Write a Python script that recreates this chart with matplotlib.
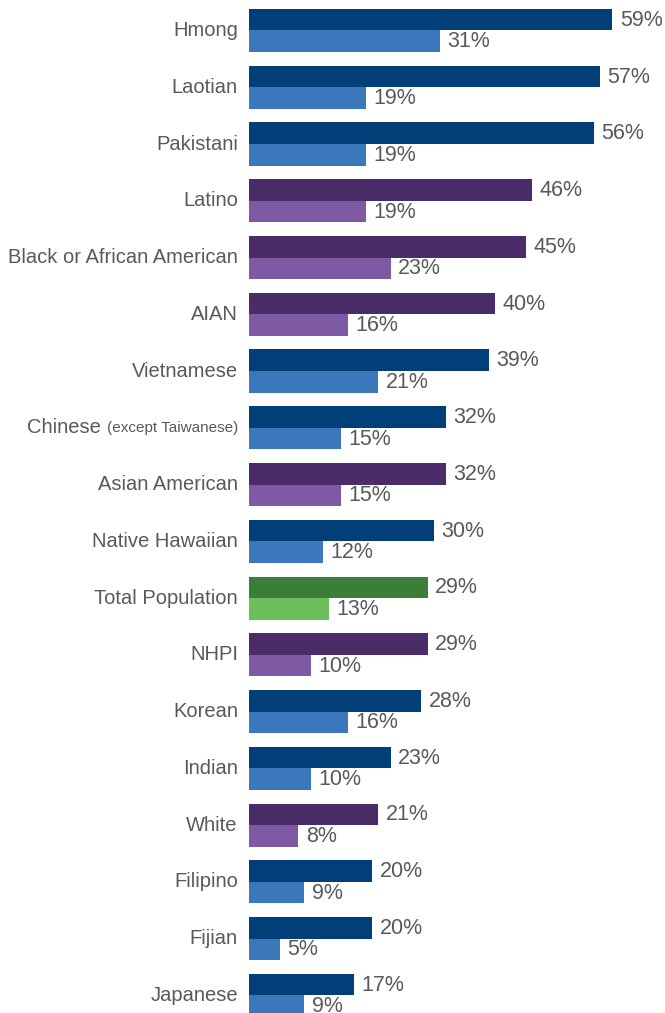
import matplotlib.pyplot as plt
import numpy as np

groups = ["Hmong", "Laotian", "Pakistani", "Latino", "Black or African American", "AIAN",
          "Vietnamese", "Chinese", "Asian American", "Native Hawaiian", "Total Population",
          "NHPI", "Korean", "Indian", "White", "Filipino", "Fijian", "Japanese"]
first = [59, 57, 56, 46, 45, 40, 39, 32, 32, 30, 29, 29, 28, 23, 21, 20, 20, 17]
second = [31, 19, 19, 19, 23, 16, 21, 15, 15, 12, 13, 10, 16, 10, 8, 9, 5, 9]
kind = ["asian", "asian", "asian", "race", "race", "race", "asian", "asian", "race",
        "asian", "total", "race", "asian", "asian", "race", "asian", "asian", "asian"]

palette = {
    "asian": ("#003f78", "#3a77bb"),
    "race": ("#4a2c69", "#7e59a4"),
    "total": ("#3b7e38", "#6cbf5a"),
}

plt.rcParams['font.family'] = ['Liberation Sans', 'DejaVu Sans']
text_color = "#595959"

fig = plt.figure(figsize=(6.65, 10.13), dpi=100)
ax = fig.add_axes([249 / 665, 0, 416 / 665, 1])

y = np.arange(len(groups))
h = 0.38
for i, g in enumerate(groups):
    dark, light = palette[kind[i]]
    ax.barh(i - h / 2, first[i], height=h, color=dark)
    ax.barh(i + h / 2, second[i], height=h, color=light)
    ax.text(first[i] + 1.2, i - h / 2 + 0.01, f"{first[i]}%", va="center", ha="left",
            fontsize=15.5, color=text_color)
    ax.text(second[i] + 1.2, i + h / 2 + 0.01, f"{second[i]}%", va="center", ha="left",
            fontsize=15.5, color=text_color)

ax.set_xlim(0, 416 / 6.16)
ax.set_ylim(17.31, -0.537)
ax.axis("off")

# category names, right aligned next to the bars
fig.canvas.draw()
renderer = fig.canvas.get_renderer()
for i, g in enumerate(groups):
    if g == "Chinese":
        note = ax.annotate("(except Taiwanese)", xy=(0, i), xycoords="data",
                           xytext=(-8, 0), textcoords="offset points",
                           ha="right", va="center", fontsize=11, color=text_color)
        bb = note.get_window_extent(renderer)
        x0 = ax.transData.inverted().transform((bb.x0, 0))[0]
        ax.annotate("Chinese ", xy=(x0, i), xycoords="data", xytext=(0, 0),
                    textcoords="offset points", ha="right", va="center",
                    fontsize=14.5, color=text_color, annotation_clip=False)
    else:
        ax.annotate(g, xy=(0, i), xycoords="data", xytext=(-8, 0),
                    textcoords="offset points", ha="right", va="center",
                    fontsize=14.5, color=text_color, annotation_clip=False)

fig.savefig("out.png", dpi=100)
